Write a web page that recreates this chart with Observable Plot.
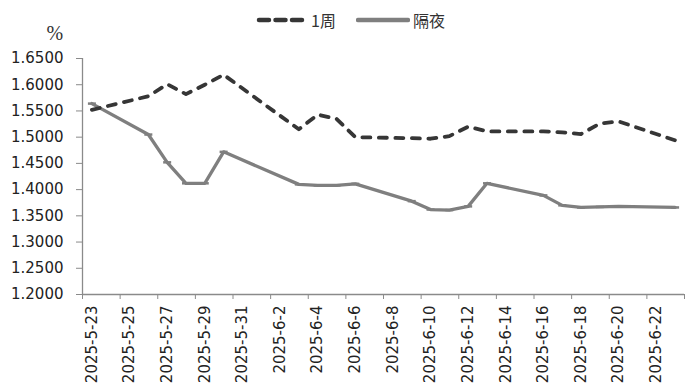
<!DOCTYPE html>
<html><head><meta charset="utf-8">
<script src="https://cdn.jsdelivr.net/npm/d3@7"></script>
<script src="https://cdn.jsdelivr.net/npm/@observablehq/plot@0.6"></script>
<style>
body{margin:0;background:#fff;width:693px;height:389px;overflow:hidden;}
#legend{height:16px;position:relative;font-family:"Noto Sans CJK SC",sans-serif;font-size:16px;color:#333;z-index:1;}
.item{position:absolute;top:10px;height:20px;display:flex;align-items:center;white-space:nowrap;}
.item svg{display:block;margin-right:3px;}
#chart svg{display:block;}
</style></head><body>
<div id="legend"></div>
<div id="chart"></div>
<script>
// ---- data ----
const dates = ["2025-5-23","2025-5-26","2025-5-27","2025-5-28","2025-5-29","2025-5-30",
  "2025-6-3","2025-6-4","2025-6-5","2025-6-6","2025-6-9","2025-6-10","2025-6-11","2025-6-12",
  "2025-6-13","2025-6-16","2025-6-17","2025-6-18","2025-6-19","2025-6-20","2025-6-23"];
const week = [1.552,1.578,1.601,1.582,1.600,1.619,1.515,1.543,1.535,1.500,1.498,1.497,1.502,1.520,
  1.511,1.511,1.509,1.506,1.526,1.530,1.494];
const overnight = [1.564,1.505,1.452,1.412,1.412,1.472,1.410,1.408,1.408,1.411,1.378,1.362,1.361,1.368,
  1.412,1.389,1.370,1.366,1.367,1.368,1.366];
const seriesNames = ["1周","隔夜"];
const xTickLabels = ["2025-5-23","2025-5-25","2025-5-27","2025-5-29","2025-5-31","2025-6-2","2025-6-4",
  "2025-6-6","2025-6-8","2025-6-10","2025-6-12","2025-6-14","2025-6-16","2025-6-18","2025-6-20","2025-6-22"];
const yTicks = [1.20,1.25,1.30,1.35,1.40,1.45,1.50,1.55,1.60,1.65];
const yUnit = "%";

// ---- helpers ----
const parse = s => { const [y,m,d] = s.split("-").map(Number); return new Date(Date.UTC(y, m-1, d)); };
const mid = s => d3.utcHour.offset(parse(s), 12);
const data = dates.map((s,i) => ({date: mid(s), week: week[i], overnight: overnight[i]}));
const x0 = parse(dates[0]);
const x1 = d3.utcDay.offset(parse(dates[dates.length-1]), 1);
const tickBounds = xTickLabels.map(parse).concat([x1]);
const labelDates = xTickLabels.map(mid);
const labelMap = new Map(labelDates.map((d,i) => [+d, xTickLabels[i]]));
const hdash = {draw(ctx, size){ const r = Math.sqrt(size/Math.PI); ctx.moveTo(-r,0); ctx.lineTo(r,0); }};

const c1 = "#363636", c2 = "#7f7f7f", axisC = "#8a8a8a";

// ---- legend ----
const lg = document.getElementById("legend");
lg.innerHTML = `
<div class="item" style="left:256px"><svg width="52" height="8"><line x1="3" y1="4" x2="49" y2="4" stroke="${c1}" stroke-width="4.5" stroke-linecap="round" stroke-dasharray="10,6.5"/></svg><span>${seriesNames[0]}</span></div>
<div class="item" style="left:356px"><svg width="54" height="8"><line x1="2" y1="4" x2="52" y2="4" stroke="${c2}" stroke-width="4.5" stroke-linecap="round"/></svg><span>${seriesNames[1]}</span></div>`;

// ---- chart ----
const chart = Plot.plot({
  width: 693, height: 373,
  marginLeft: 82, marginRight: 9, marginTop: 42, marginBottom: 95,
  style: {fontFamily: "DejaVu Sans", fontSize: "15px", color: "#222", background: "transparent"},
  x: {type: "utc", domain: [x0, x1]},
  y: {domain: [yTicks[0], yTicks[yTicks.length-1]]},
  marks: [
    Plot.axisY({ticks: yTicks, tickFormat: d3.format(".4f"), tickSize: 6, tickPadding: 13, stroke: axisC, label: null}),
    Plot.axisX({ticks: tickBounds, tickSize: 5, tickFormat: () => "", stroke: axisC, label: null}),
    Plot.axisX({ticks: labelDates, tickSize: 0, tickPadding: 11, tickRotate: -90, tickFormat: d => labelMap.get(+d), label: null}),
    Plot.ruleX([x0], {stroke: axisC, strokeWidth: 1.3}),
    Plot.ruleY([yTicks[0]], {stroke: axisC, strokeWidth: 1.3}),
    Plot.lineY(data, {x: "date", y: "overnight", stroke: c2, strokeWidth: 3.3}),
    Plot.dot(data, {x: "date", y: "overnight", symbol: hdash, r: 4, stroke: c2, strokeWidth: 2.5}),
    Plot.lineY(data, {x: "date", y: "week", stroke: c1, strokeWidth: 3.8, strokeDasharray: "8,8.5", strokeLinecap: "round"}),
    Plot.text([yUnit], {frameAnchor: "top-left", dx: -36, dy: -33, fontFamily: "Liberation Serif", fontSize: 20, fill: "#333"})
  ]
});
document.getElementById("chart").appendChild(chart);
</script>
</body></html>
